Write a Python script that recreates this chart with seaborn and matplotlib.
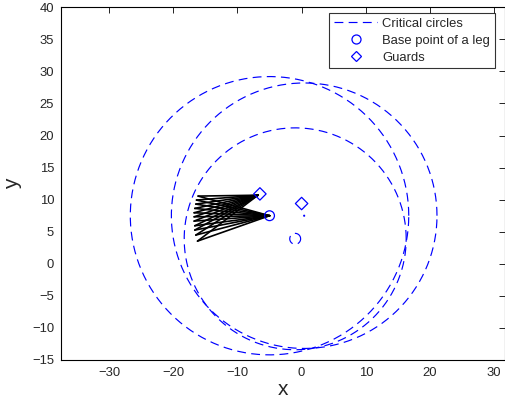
import numpy as np
import pandas as pd
import matplotlib
matplotlib.use("Agg")
import matplotlib.pyplot as plt
import seaborn as sns
from matplotlib.lines import Line2D

# ---- data ----
circle_cx = [-5.0, 0.4, -1.0, -1.0, 0.4]
circle_cy = [7.5, 7.5, 3.9, 3.9, 7.5]
circle_r = [21.7, 20.7, 17.3, 0.85, 0.08]

base_x = [-5.0]
base_y = [7.5]

guard_x = [-6.5, 0.0]
guard_y = [10.9, 9.4]

foot_x = [-16.13, -16.38, -16.49, -16.65, -16.75, -16.75, -16.75, -16.65, -16.65, -16.49, -16.22]
foot_y = [10.56, 9.94, 9.31, 8.64, 7.96, 7.33, 6.66, 5.93, 5.26, 4.48, 3.54]
joint_x = [-6.8]
joint_y = [10.7]

xlim = (-37.5, 31.7)
ylim = (-15, 40)
xticks = [-30, -20, -10, 0, 10, 20, 30]
yticks = [-15, -10, -5, 0, 5, 10, 15, 20, 25, 30, 35, 40]

# ---- style ----
sns.set_style("white")
plt.rcParams["font.family"] = ["Liberation Sans", "DejaVu Sans"]

fig = plt.figure(figsize=(5.06, 4.05), dpi=100)
ax = fig.add_axes([61 / 506, 45 / 405, 444 / 506, 352.7 / 405])

# critical circles
theta = np.linspace(0, 2 * np.pi, 400)
rows = []
for i, (cx, cy, r) in enumerate(zip(circle_cx, circle_cy, circle_r)):
    for t in theta:
        rows.append({"c": i, "x": cx + r * np.cos(t), "y": cy + r * np.sin(t)})
circ = pd.DataFrame(rows)
n0 = len(ax.lines)
sns.lineplot(data=circ, x="x", y="y", units="c", estimator=None, sort=False,
             color="blue", lw=0.85, ax=ax, legend=False)
for ln in ax.lines[n0:]:
    ln.set_dashes((7.5, 4.5))

# leg configurations
seg = []
k = 0
for fx, fy in zip(foot_x, foot_y):
    seg.append({"s": k, "x": fx, "y": fy}); seg.append({"s": k, "x": joint_x[0], "y": joint_y[0]}); k += 1
    seg.append({"s": k, "x": fx, "y": fy}); seg.append({"s": k, "x": base_x[0], "y": base_y[0]}); k += 1
segdf = pd.DataFrame(seg)
sns.lineplot(data=segdf, x="x", y="y", units="s", estimator=None, sort=False,
             color="black", lw=1.2, ax=ax, legend=False)

# markers
sns.scatterplot(x=base_x, y=base_y, marker="o", s=50, facecolor="none",
                edgecolor="blue", linewidth=0.9, ax=ax, zorder=5)
sns.scatterplot(x=guard_x, y=guard_y, marker="D", s=40, facecolor="none",
                edgecolor="blue", linewidth=0.9, ax=ax, zorder=5)

ax.set_xlim(*xlim)
ax.set_ylim(*ylim)
ax.set_xticks(xticks)
ax.set_yticks(yticks)
ax.tick_params(direction="in", length=4.5, width=0.6, top=True, right=True,
               labelsize=9.4, pad=5, color="black")
for sp in ax.spines.values():
    sp.set_visible(True)
    sp.set_color("black")
    sp.set_linewidth(0.8)
ax.set_xlabel("x", fontsize=15, labelpad=1)
ax.set_ylabel("y", fontsize=15, labelpad=7)

handles = [
    Line2D([], [], color="blue", lw=0.85, dashes=(7.5, 4.5)),
    Line2D([], [], color="blue", marker="o", ls="none", mfc="none", mew=0.9, ms=6.5),
    Line2D([], [], color="blue", marker="D", ls="none", mfc="none", mew=0.9, ms=5.5),
]
leg = ax.legend(handles, ["Critical circles", "Base point of a leg", "Guards"],
                loc="upper right", bbox_to_anchor=(0.977, 0.984), borderaxespad=0,
                fontsize=9.4, frameon=True, fancybox=False, handlelength=3.3,
                handletextpad=0.4, labelspacing=0.38, borderpad=0.35)
leg.get_frame().set_edgecolor("black")
leg.get_frame().set_linewidth(0.8)

fig.savefig("out.png", dpi=100)
